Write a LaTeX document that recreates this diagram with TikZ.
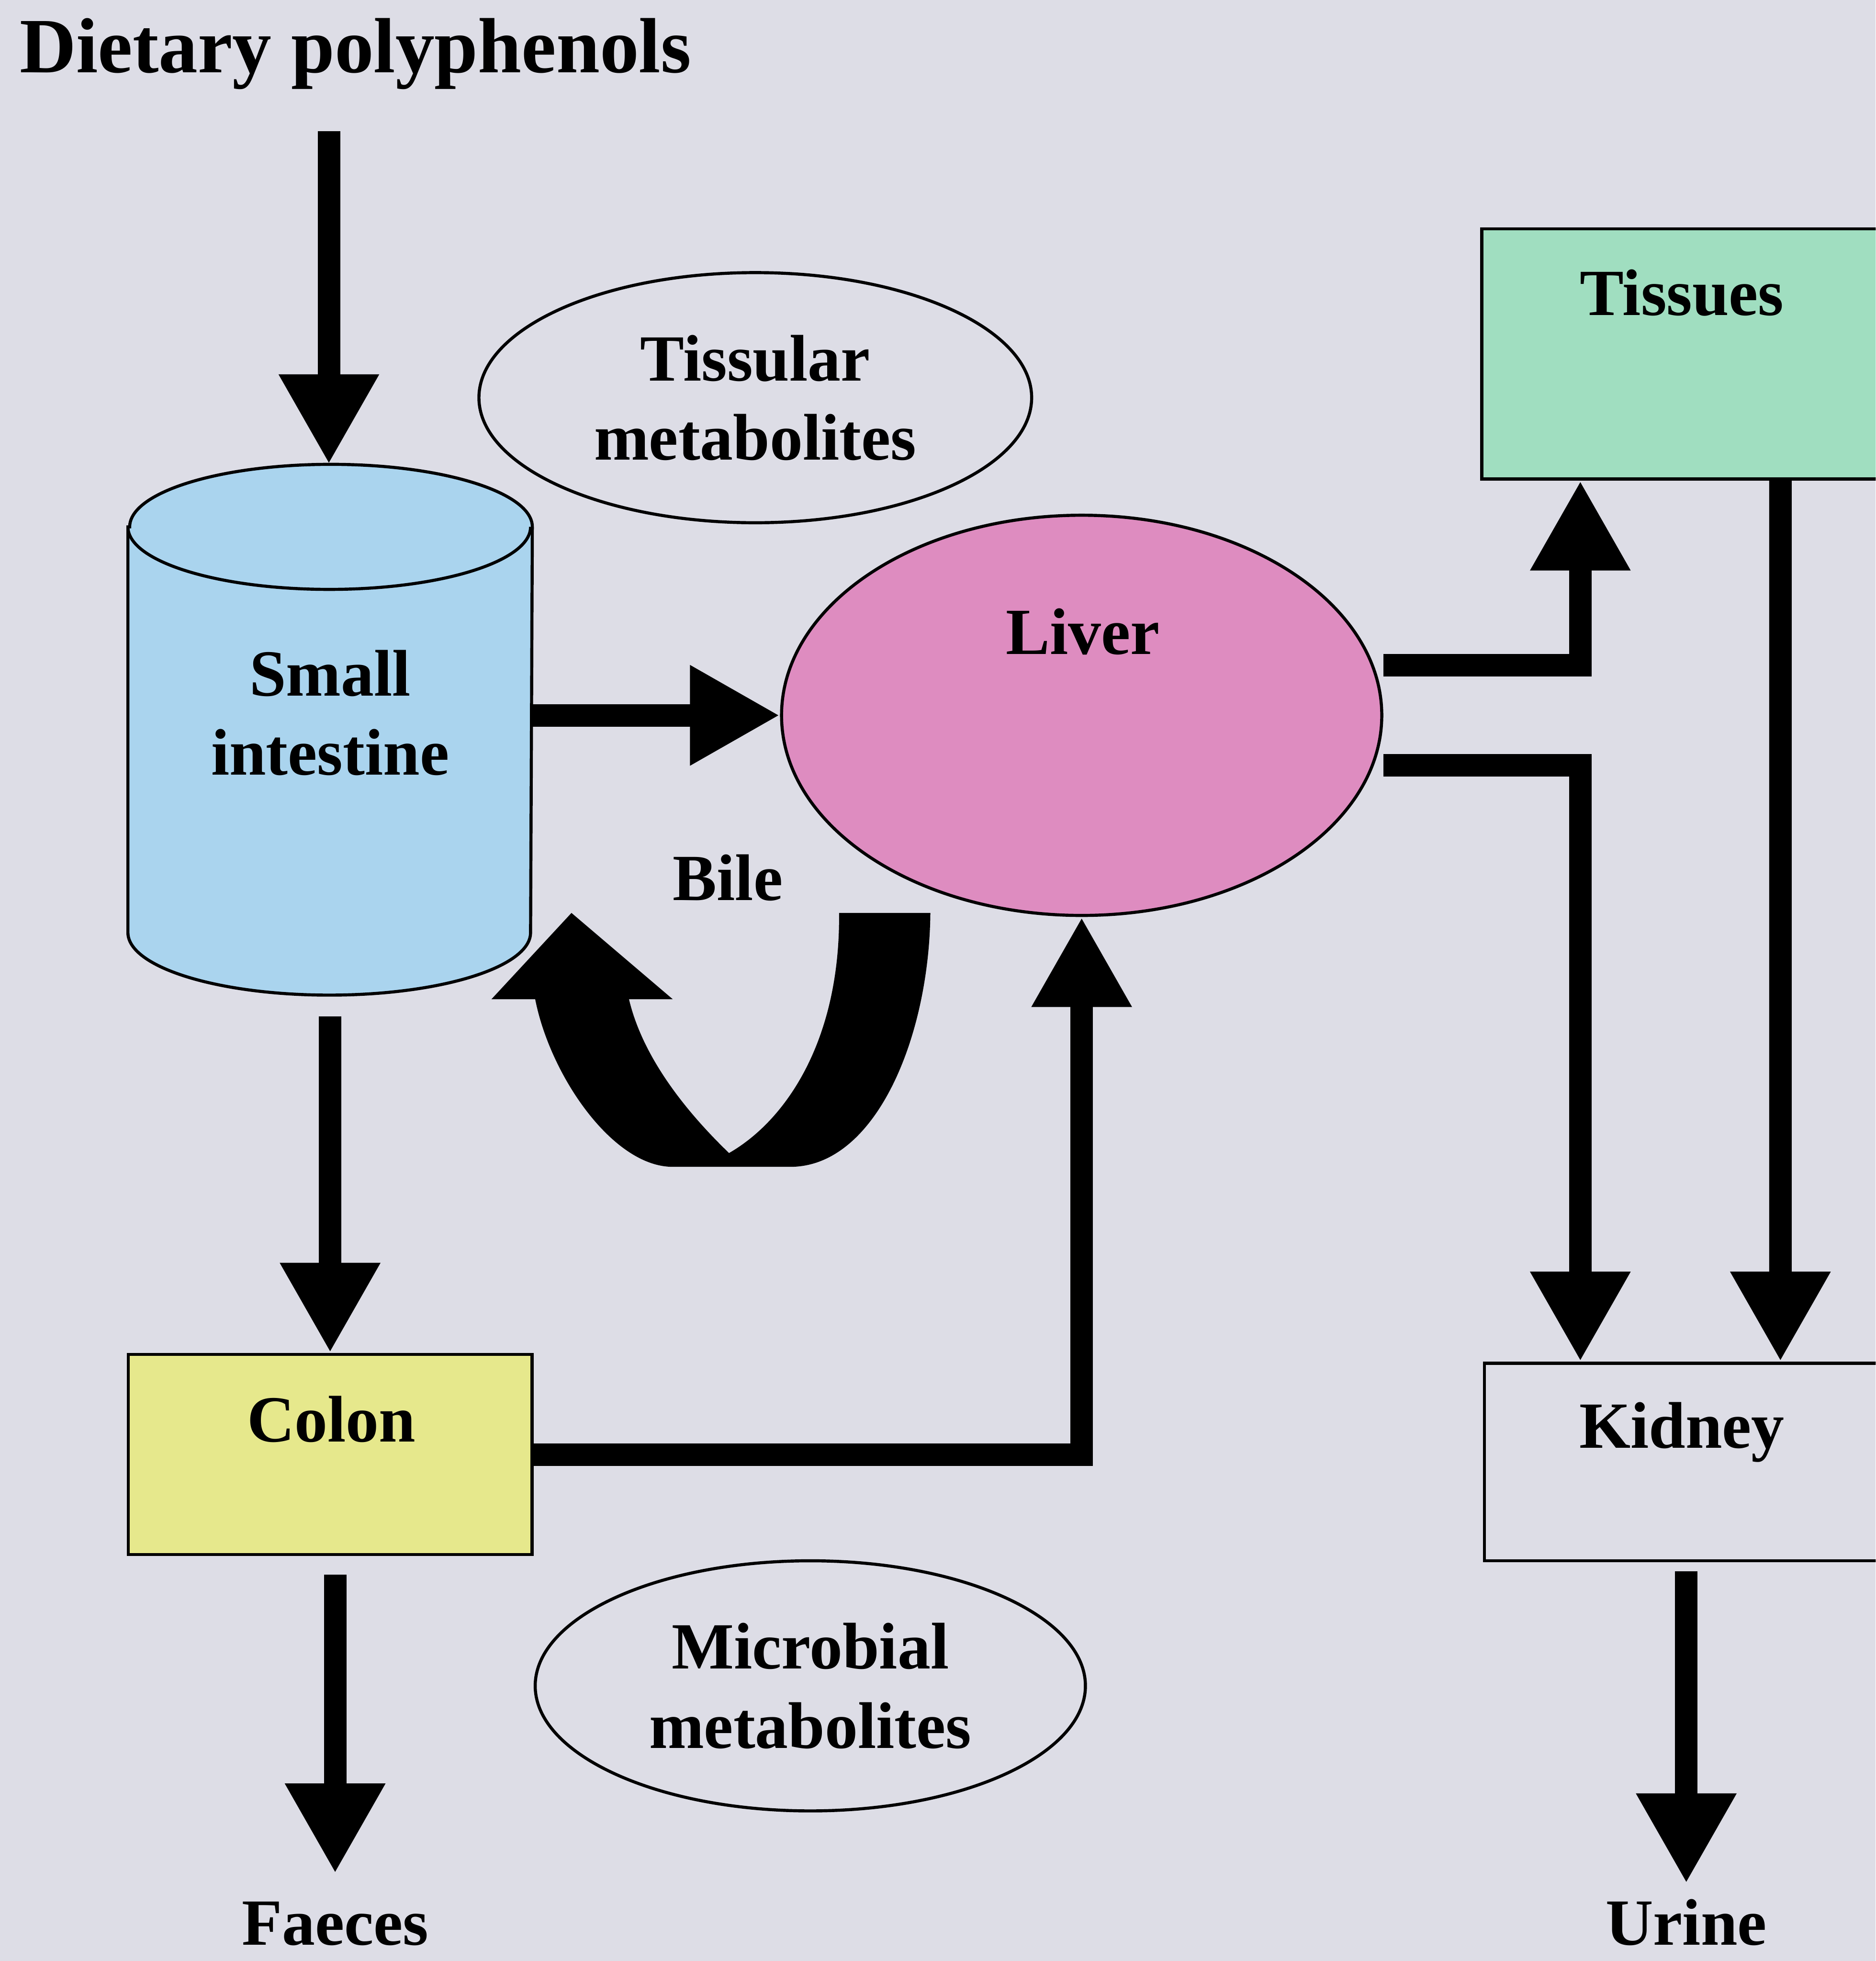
\documentclass[tikz,border=0pt]{standalone}
\usepackage{fontspec}
\setmainfont{Liberation Serif}
\usetikzlibrary{arrows.meta,positioning,shapes.geometric}
\definecolor{bgcol}{RGB}{221,221,230}
\definecolor{sicol}{RGB}{170,212,238}
\definecolor{livcol}{RGB}{222,140,192}
\definecolor{tiscol}{RGB}{160,222,192}
\definecolor{colcol}{RGB}{230,232,140}
\tikzset{
  lbl/.style={font=\fontsize{15}{18}\selectfont\bfseries,align=center},
  ttl/.style={font=\fontsize{17.8}{21}\selectfont\bfseries,inner sep=0pt},
  box/.style={draw,line width=.7pt,inner sep=0pt},
  oval/.style={box,ellipse,lbl,minimum width=4.42cm,minimum height=2cm},
  flow/.style={line width=1.8mm,-{Triangle[length=7.2mm,width=7.5mm]}},
}
\begin{document}
\begin{tikzpicture}
  \useasboundingbox (0,0) rectangle (15,15.68);
  \clip (0,0) rectangle (15,15.68);
  \fill[bgcol] (0,0) rectangle (15,15.68);
  % organs
  \node[minimum width=3.22cm,minimum height=4.23cm] (si) at (2.64,9.845) {};
  \draw[line width=.7pt,fill=sicol] ([yshift=-.5cm]si.north west)
    -- ([yshift=.5cm]si.south west) arc[start angle=180,end angle=360,x radius=1.61cm,y radius=.5cm]
    -- ([yshift=-.5cm]si.north east) arc[start angle=0,end angle=180,x radius=1.61cm,y radius=.5cm] -- cycle;
  \draw[line width=.7pt] ([yshift=-.5cm]si.north west)
    arc[start angle=180,end angle=360,x radius=1.61cm,y radius=.5cm];%rim
  \node[lbl] at (2.64,9.98) {Small\\intestine};
  \node[box,ellipse,fill=livcol,minimum width=4.8cm,minimum height=3.2cm] (liv) at (8.65,9.96) {};
  \node[lbl,anchor=base] at (8.66,10.45) {Liver};
  \node[box,fill=tiscol,minimum width=3.25cm,minimum height=2cm] (tis) at (13.475,12.85) {};
  \node[lbl,anchor=base] at (13.45,13.16) {Tissues};
  \node[box,minimum width=3.23cm,minimum height=1.58cm] (kid) at (13.485,3.99) {};
  \node[lbl,anchor=base] at (13.45,4.10) {Kidney};
  \node[box,fill=colcol,minimum width=3.23cm,minimum height=1.6cm] (col) at (2.64,4.05) {};
  \node[lbl,anchor=base] at (2.65,4.15) {Colon};
  \node[oval] (tm) at (6.04,12.50) {Tissular\\metabolites};
  \node[oval,minimum width=4.4cm] (mm) at (6.48,2.20) {Microbial\\metabolites};
  % in and out
  \node[ttl,anchor=base west] (diet) at (0.15,15.10) {Dietary polyphenols};
  \coordinate (dietout) at (2.63,14.63);
  \node[lbl,anchor=base] (fae) at (2.68,0.13) {Faeces};
  \node[lbl,anchor=base] (uri) at (kid.south |- 0,0.13) {Urine};
  \node[lbl,anchor=base] (bile) at (5.82,8.48) {Bile};
  % flows
  \draw[flow] (dietout) -- (dietout |- si.north);
  \draw[flow] (si.east |- liv.west) -- (liv.west);
  \draw[flow] ([yshift=-.17cm]si.south) -- (col.north);
  \draw[flow] (col.east) -| (liv.south);
  \draw[flow,shorten >=.1cm] ([yshift=-.15cm]col.south -| fae.north) -- (fae.north);
  \draw[flow] ([yshift=.4cm]liv.east) -| ([xshift=.8cm]tis.south west);
  \draw[flow] ([yshift=-.4cm]liv.east) -| ([xshift=.78cm]kid.north west);
  \draw[flow] ([xshift=2.4cm]tis.south west) -- ([xshift=2.38cm]kid.north west);
  \draw[flow] ([yshift=-.07cm]kid.south) -- (uri.north);
  % bile loop back to the small intestine
  \fill (6.71,8.38) -- (7.44,8.38) .. controls (7.43,7.38) and (7.00,6.35) .. (6.32,6.35)
    -- (5.38,6.35) .. controls (4.90,6.35) and (4.40,7.08) .. (4.28,7.69)
    -- (3.93,7.69) -- (4.57,8.38) -- (5.38,7.69) -- (5.03,7.69)
    .. controls (5.15,7.18) and (5.55,6.73) .. (5.83,6.46)
    .. controls (6.30,6.73) and (6.72,7.38) .. (6.71,8.38) -- cycle;
\end{tikzpicture}
\end{document}
